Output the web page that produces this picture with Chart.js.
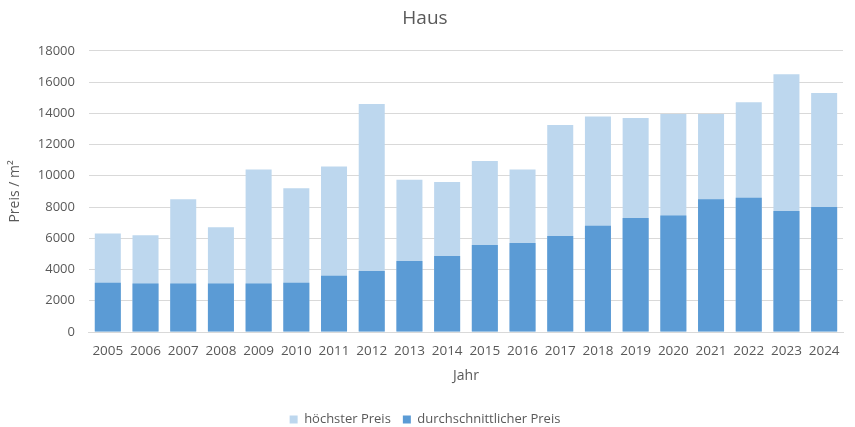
<!DOCTYPE html>
<html><head><meta charset="utf-8">
<script src="https://cdn.jsdelivr.net/npm/chart.js@4/dist/chart.umd.min.js"></script>
<style>html,body{margin:0;padding:0;background:#fff}#wrap{width:855px;height:427px}</style>
</head><body><div id="wrap"><canvas id="c" width="855" height="427"></canvas></div>
<script>
const years = ['2005','2006','2007','2008','2009','2010','2011','2012','2013','2014','2015','2016','2017','2018','2019','2020','2021','2022','2023','2024'];
const hoechsterPreis = [6300,6200,8500,6700,10400,9200,10600,14600,9750,9600,10950,10400,13250,13800,13700,13950,13950,14700,16500,15300];
const durchschnittPreis = [3150,3100,3100,3100,3100,3150,3600,3900,4550,4870,5570,5700,6150,6800,7300,7450,8500,8600,7750,8000];
const yTicks = [0,2000,4000,6000,8000,10000,12000,14000,16000,18000];

const font = "'Open Sans', 'Liberation Sans', Arial, sans-serif";
const grey = '#595959';
new Chart(document.getElementById('c'), {
  type: 'bar',
  data: {
    labels: years,
    datasets: [
      {label: 'höchster Preis', data: hoechsterPreis, backgroundColor: '#BDD7EE', grouped: false, order: 1, barPercentage: 0.69, categoryPercentage: 1},
      {label: 'durchschnittlicher Preis', data: durchschnittPreis, backgroundColor: '#5B9BD5', grouped: false, order: 0, barPercentage: 0.69, categoryPercentage: 1}
    ]
  },
  options: {
    responsive: false,
    animation: false,
    layout: {padding: {left: 7, right: 12, top: 4, bottom: -9}},
    plugins: {
      title: {display: true, text: 'Haus', color: grey, font: {family: font, size: 19, weight: 'normal'}, padding: {top: 3, bottom: 21}},
      legend: {position: 'bottom', labels: {color: grey, font: {family: font, size: 13}, boxWidth: 8, boxHeight: 8, padding: 12,
        sort: (a, b) => a.datasetIndex - b.datasetIndex}},
      tooltip: {enabled: false}
    },
    scales: {
      x: {
        grid: {display: false},
        border: {display: true, color: '#D9D9D9'},
        ticks: {color: grey, font: {family: font, size: 13.5}, maxRotation: 0, autoSkip: false, padding: 3},
        title: {display: true, text: 'Jahr', color: grey, font: {family: font, size: 14}, padding: {top: 5, bottom: 17}}
      },
      y: {
        min: 0, max: 18000,
        afterBuildTicks: (s) => { s.ticks = yTicks.map(v => ({value: v})); },
        grid: {color: '#D9D9D9', drawTicks: false},
        border: {display: false},
        ticks: {color: grey, font: {family: font, size: 13}, padding: 14, callback: (v) => String(v)},
        title: {display: true, text: 'Preis / m²', color: grey, font: {family: font, size: 14}, padding: {top: 0, bottom: 0}}
      }
    }
  }
});
</script></body></html>
